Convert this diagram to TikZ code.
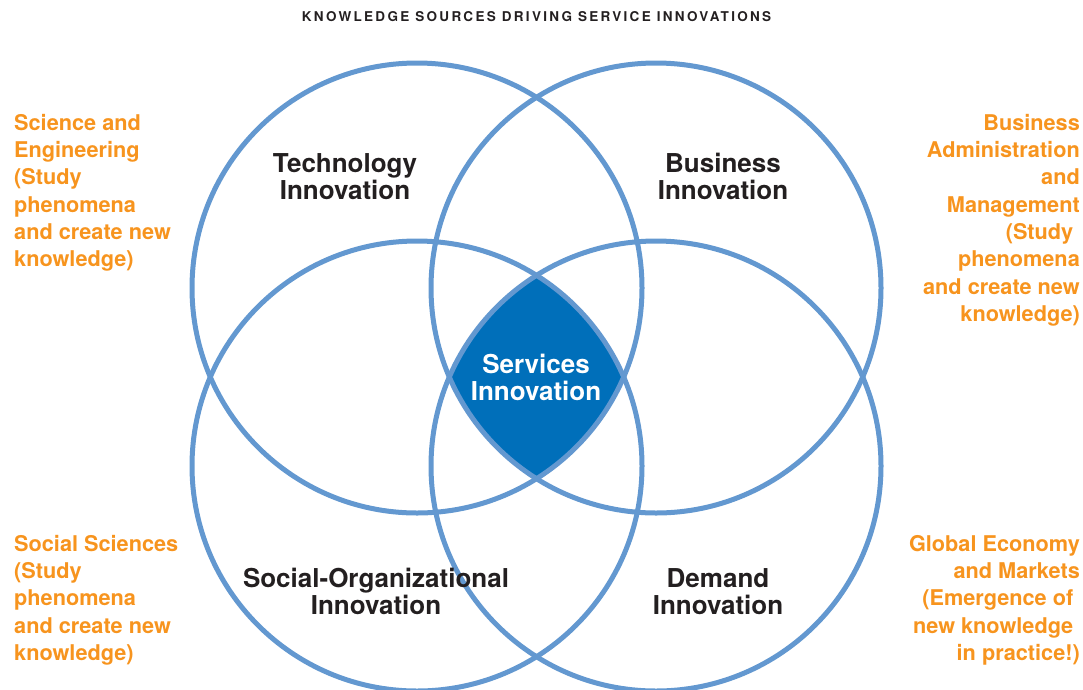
\documentclass[tikz,border=0pt]{standalone}
\usepackage{fontspec}
\setmainfont{TeX Gyre Heros}
\newfontfamily\spacedfont[LetterSpace=17]{TeX Gyre Heros}

\begin{document}
\begin{tikzpicture}[x=1pt,y=-1pt]
        % Define circle radius
        \def\r{225pt}
        % Define colours
        \definecolor{ringblue}{RGB}{99,152,208} % Soft Blue
        \definecolor{coreblue}{RGB}{0,111,186} % Strong Blue
        \definecolor{sourceorange}{RGB}{247,148,30} % Orange
        \definecolor{labelblack}{RGB}{35,31,32}
        \tikzset{
            area/.style={font=\bfseries\fontsize{26}{27}\selectfont, text=labelblack, align=center, inner sep=0pt},
            source/.style={font=\bfseries\fontsize{21.7}{27.3}\selectfont, text=sourceorange, inner sep=0pt}
        }
        \useasboundingbox (0,0) rectangle (1083,689);

        % Heading
        \node[font=\spacedfont\bfseries\fontsize{13.5}{15}\selectfont, text=labelblack, inner sep=0pt] (heading) at (536.5,17) {KNOWLEDGE SOURCES DRIVING SERVICE INNOVATIONS};

        % Fill the part shared by all four circles
        \begin{scope}
            \clip (417,288) circle(\r);
            \clip (656,288) circle(\r);
            \clip (417,466) circle(\r);
            \fill[coreblue] (656,466) circle(\r);
        \end{scope}
        % Draw the circles
        \foreach \x/\y in {417/288,656/288,417/466,656/466} {
            \draw[ringblue, line width=5pt] (\x,\y) circle(\r);
        }

        % Innovation labels
        \node[area, anchor=north] (technology) at (345,153) {Technology\\Innovation};
        \node[area, anchor=north] (business) at (723,153) {Business\\Innovation};
        \node[area, anchor=north, text=white] (services) at (536,354) {Services\\Innovation};
        \node[area, anchor=north] (socialorg) at (376,568) {Social-Organizational\\Innovation};
        \node[area, anchor=north] (demand) at (718,568) {Demand\\Innovation};

        % Knowledge sources on both sides
        \node[source, anchor=north west, align=left] (science) at (14,114)
            {Science and\\Engineering\\(Study\\phenomena\\and create new\\knowledge)};
        \node[source, anchor=north east, align=right] (management) at (1080,114)
            {Business\\Administration\\and\\Management\\(Study\rule{.3em}{0pt}\\phenomena\\and create new\\knowledge)};
        \node[source, anchor=north west, align=left] (socialsci) at (14,535)
            {Social Sciences\\(Study\\phenomena\\and create new\\knowledge)};
        \node[source, anchor=north east, align=right] (economy) at (1080,535)
            {Global Economy\\and Markets\\(Emergence of\rule{.3em}{0pt}\\new knowledge\rule{.3em}{0pt}\\in practice!)};
\end{tikzpicture}
\end{document}
